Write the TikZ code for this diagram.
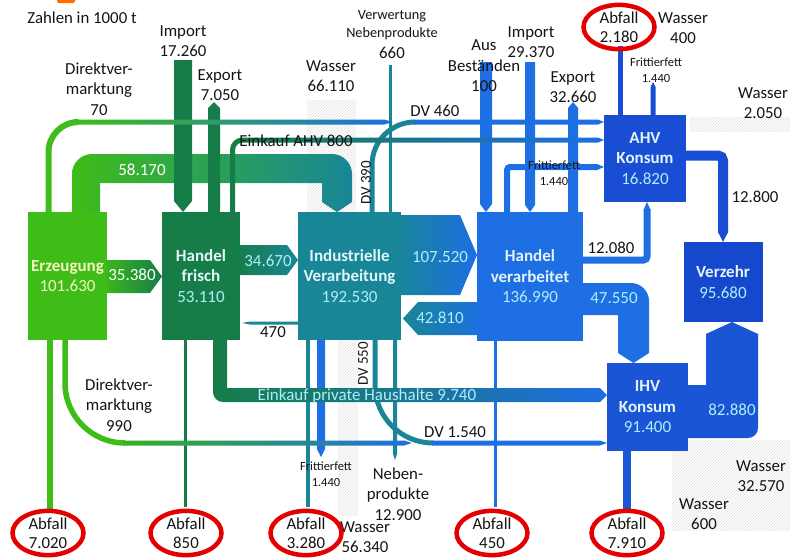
\documentclass[tikz,border=0pt]{standalone}
\usepackage{fontspec}
\setmainfont{Carlito}
\usetikzlibrary{shapes.geometric,patterns}
\definecolor{erz}{RGB}{62,188,24}
\definecolor{hf}{RGB}{22,125,72}
\definecolor{iv}{RGB}{24,134,150}
\definecolor{hv}{RGB}{30,110,228}
\definecolor{ahv}{RGB}{25,78,212}
\definecolor{vz}{RGB}{22,72,205}
\definecolor{ihv}{RGB}{26,85,214}
\definecolor{schrift}{RGB}{20,20,20}
\definecolor{hell}{RGB}{175,238,248}
\definecolor{boxtitle}{RGB}{225,245,250}
\definecolor{erztxt}{RGB}{245,245,190}
\definecolor{abf}{RGB}{228,0,0}
\newcommand\ttl[1]{\textcolor{boxtitle}{\bfseries #1}}

\begin{document}
\begin{tikzpicture}[x=1pt, y=-1pt,
  box/.style={inner sep=0, align=center, text=hell, font=\fontsize{17}{20.5}\selectfont},
  lbl/.style={inner sep=0, align=center, text=schrift, font=\fontsize{16.8}{20.5}\selectfont},
  klein/.style={inner sep=0, align=center, text=schrift, font=\fontsize{12.5}{15.5}\selectfont},
  wert/.style={inner sep=0, text=hell, font=\fontsize{17}{20}\selectfont},
  abfall/.style={ellipse, draw=abf, line width=4.5pt, minimum width=71pt, minimum height=39pt, inner sep=0, align=center, text=schrift, font=\fontsize{16.8}{19.5}\selectfont},
  wasser/.style={pattern=north east lines, pattern color=black!12}]
\useasboundingbox (0,0) rectangle (790,558);
\fill[orange!85!red, rounded corners=2pt] (57,-6) rectangle (75,3);

\fill[wasser] (307,100) rectangle (356,212);
\fill[wasser] (338,340) rectangle (358,515);
\fill[wasser] (690,117) rectangle (790,131);
\fill[wasser] (672,440) rectangle (790,530);

\shade[left color=erz, middle color=hf, right color=iv] (72,225) -- (72,174) arc[start angle=180, end angle=90, radius=20pt] -- (332,154) arc[start angle=90, end angle=0, radius=20pt] -- (352,202) -- (337,212) -- (322,202) -- (322,183) -- (100,183) -- (100,225) -- cycle;
\fill[hf] (174,60) -- (192,60) -- (192,201) -- (183,212) -- (174,201) -- cycle;
\fill[hf] (208,225) -- (208,108) -- (214,102) -- (220,108) -- (220,225) -- cycle;
\fill[iv] (388.5,65) rectangle (391.5,212);
\fill[hv] (480,62) -- (492,62) -- (492,204) -- (486,212) -- (480,204) -- cycle;
\fill[hv] (525,62) -- (535,62) -- (535,205) -- (530,212) -- (525,205) -- cycle;
\fill[hv] (568,225) -- (568,108) -- (573,102) -- (578,108) -- (578,225) -- cycle;
\draw[erz, line width=6pt] (48.5,225) -- (48.5,152) arc[start angle=180, end angle=90, radius=30pt];
\shade[left color=erz, right color=hv] (78,119.5) -- (384,119.5) -- (393,122) -- (384,124.5) -- (78,124.5) -- cycle;
\draw[iv, line width=5pt] (372,225) -- (372,165) arc[start angle=180, end angle=90, radius=43pt];
\fill[hv] (414,119.5) -- (598,119.5) -- (604,122) -- (598,124.5) -- (414,124.5) -- cycle;
\draw[hf, line width=5pt] (232.5,225) -- (232.5,150) arc[start angle=180, end angle=90, radius=10pt];
\shade[left color=hf, middle color=iv, right color=hv] (242,137.5) -- (598,137.5) -- (604,140) -- (598,142.5) -- (242,142.5) -- cycle;
\draw[hv, line width=6pt, rounded corners=3pt] (507,225) -- (507,167) -- (598,167);
\fill[hv] (597,164) -- (604,167) -- (597,170) -- cycle;
\fill[ahv] (617.5,125) rectangle (622.5,46);
\fill[ahv] (650.5,125) -- (650.5,87) -- (653,82) -- (655.5,87) -- (655.5,125) -- cycle;
\draw[ahv, line width=10pt, rounded corners=5pt] (680,155.5) -- (723,155.5) -- (723,233);
\fill[ahv] (718,232) -- (728,232) -- (723,242) -- cycle;

\shade[left color=erz, right color=hf] (100,260) -- (150,260) -- (162,276.5) -- (150,293) -- (100,293) -- cycle;
\shade[left color=hf, right color=iv] (235,245) -- (287,245) -- (298,260) -- (287,275) -- (235,275) -- cycle;
\fill[iv] (305,321.5) -- (250,321.5) -- (242,323) -- (250,324.5) -- (305,324.5) -- cycle;
\shade[left color=iv, right color=hv] (395,215) -- (460,215) -- (477,255) -- (460,295) -- (395,295) -- cycle;
\shade[left color=iv, right color=hv] (403,318.5) -- (418,302) -- (485,302) -- (485,335) -- (418,335) -- cycle;
\draw[hv, line width=7pt, rounded corners=3.5pt] (575,260) -- (647,260) -- (647,209);
\fill[hv] (643.5,210) -- (647,202) -- (650.5,210) -- cycle;
\fill[hv] (575,283) -- (631,283) arc[start angle=90, end angle=0, radius=18pt] -- (649,353) -- (633.5,363) -- (618,353) -- (618,315) -- (575,315) -- cycle;
\fill[ihv] (680,385) -- (706,385) -- (706,334) -- (732,322) -- (758,334) -- (758,428) arc[start angle=0, end angle=-90, radius=10pt] -- (680,438) -- cycle;

\fill[erz] (47,330) rectangle (53,512);
\fill[hf] (183.5,330) rectangle (186.5,507);
\fill[iv] (306,330) rectangle (310,507);
\fill[hv] (317,330) -- (325,330) -- (325,449) -- (321,457) -- (317,449) -- cycle;
\fill[iv] (393,330) -- (397,330) -- (397,454) -- (395,460) -- (393,454) -- cycle;
\fill[hv] (493.5,330) rectangle (496.5,507);
\fill[ihv] (623,440) rectangle (631,512);
\draw[erz, line width=5.5pt] (65,330) -- (65,383) arc[start angle=180, end angle=270, radius=60pt];
\shade[left color=erz!80!hf, middle color=iv, right color=hv] (124,440.5) -- (404,440.5) -- (412,443) -- (404,445.5) -- (124,445.5) -- cycle;
\draw[iv, line width=5pt] (375,330) -- (375,385) arc[start angle=180, end angle=270, radius=58pt];
\fill[hv] (432,440.5) -- (600,440.5) -- (607,443) -- (600,445.5) -- (432,445.5) -- cycle;
\shade[left color=hf, middle color=iv, right color=hv] (213,335) -- (213,392) arc[start angle=180, end angle=270, radius=10pt] -- (600,402) -- (607,395) -- (600,388) -- (227,388) -- (227,335) -- cycle;

\node[box, fill=erz, minimum width=79pt, minimum height=128pt, text=erztxt] (erz) at (67.5,276) {\textbf{Erzeugung}\\101.630};
\node[box, fill=hf, minimum width=78pt, minimum height=128pt] (hf) at (201,276) {\ttl{Handel}\\\ttl{frisch}\\53.110};
\node[box, fill=iv, minimum width=103pt, minimum height=128pt] (iv) at (349.5,276) {\ttl{Industrielle}\\\ttl{Verarbeitung}\\192.530};
\node[box, fill=hv, minimum width=106pt, minimum height=129pt] (hv) at (530,276.5) {\ttl{Handel}\\\ttl{verarbeitet}\\136.990};
\node[box, fill=ahv, minimum width=82pt, minimum height=87pt] (ahv) at (645,158.5) {\ttl{AHV}\\\ttl{Konsum}\\16.820};
\node[box, fill=vz, minimum width=79pt, minimum height=80pt] (vz) at (723,282) {\ttl{Verzehr}\\95.680};
\node[box, fill=ihv, minimum width=81pt, minimum height=88pt] (ihv) at (647.5,407) {\ttl{IHV}\\\ttl{Konsum}\\91.400};

\node[lbl] (zahlen) at (82,18) {Zahlen in 1000 t};
\node[lbl] (dir70) at (99,89) {Direktver-\\marktung\\70};
\node[lbl] (imp1) at (183,41) {Import\\17.260};
\node[lbl] (exp1) at (220,85) {Export\\7.050};
\node[lbl] (was1) at (331,76) {Wasser\\66.110};
\node[lbl, font=\fontsize{14.3}{17.5}\selectfont] (verw) at (392,25) {Verwertung\\Nebenprodukte};
\node[lbl] (verwz) at (392,53) {660};
\node[lbl] (aus) at (484,66) {Aus\\Beständen\\100};
\node[lbl] (imp2) at (531,42) {Import\\29.370};
\node[lbl] (exp2) at (573,87) {Export\\32.660};
\node[lbl] (was400) at (683,28) {Wasser\\400};
\node[klein] (fritt1) at (656,70) {Frittierfett\\1.440};
\node[lbl] (was2050) at (763,103) {Wasser\\2.050};
\node[lbl] (dv460) at (435,111) {DV 460};
\node[lbl] (ek800) at (296,141) {Einkauf AHV 800};
\node[lbl, rotate=90, font=\fontsize{15}{17}\selectfont] (dv390) at (366,183) {DV 390};
\node[klein] (fritt2) at (554,173) {Frittierfett\\1.440};
\node[lbl] (w12800) at (755,197) {12.800};
\node[lbl] (w12080) at (611,248) {12.080};
\node[wert] (w47550) at (614,298) {47.550};
\node[wert] (w107520) at (440,257) {107.520};
\node[wert] (w42810) at (440,318) {42.810};
\node[wert, text=white] (w35380) at (132,275) {35.380};
\node[wert] (w34670) at (268,261) {34.670};
\node[lbl] (w470) at (273,332) {470};
\node[wert, text=white] (w58170) at (142,170) {58.170};
\node[wert] (w82880) at (732,410) {82.880};
\node[lbl, rotate=90, font=\fontsize{15}{17}\selectfont] (dv550) at (363,364) {DV 550};
\node[wert] (ekph) at (367,396) {Einkauf private Haushalte 9.740};
\node[lbl] (dv1540) at (455,432) {DV 1.540};
\node[lbl] (dir990) at (119,405) {Direktver-\\marktung\\990};
\node[klein] (fritt3) at (326,474) {Frittierfett\\1.440};
\node[lbl] (neben) at (398,494) {Neben-\\produkte\\12.900};
\node[lbl] (was56) at (365,537) {Wasser\\56.340};
\node[lbl] (was32) at (761,476) {Wasser\\32.570};
\node[lbl] (was600) at (704,514) {Wasser\\600};

\node[abfall] (abf1) at (48,533) {Abfall\\7.020};
\node[abfall] (abf2) at (186,533) {Abfall\\850};
\node[abfall] (abf3) at (306,533) {Abfall\\3.280};
\node[abfall] (abf4) at (492,533) {Abfall\\450};
\node[abfall] (abf5) at (627,533) {Abfall\\7.910};
\node[abfall] (abf6) at (619,27) {Abfall\\2.180};
\end{tikzpicture}
\end{document}
